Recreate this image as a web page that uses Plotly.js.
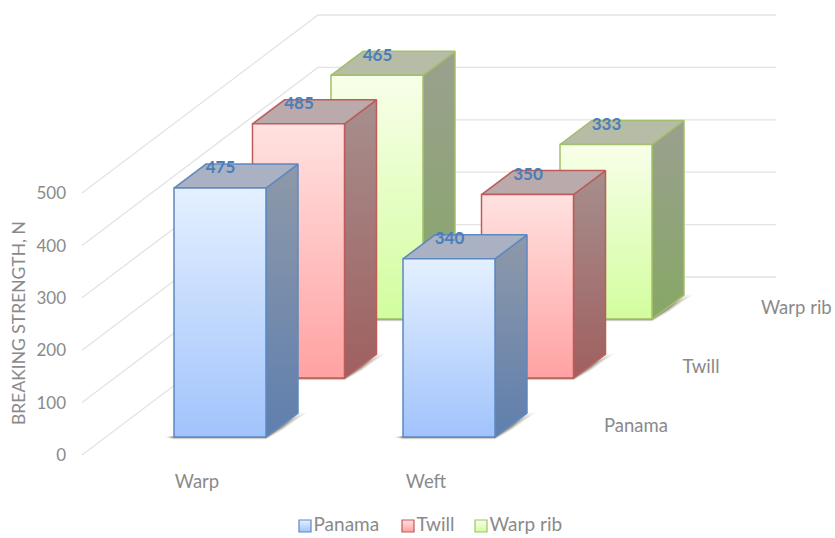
<!DOCTYPE html>
<html>
<head>
<meta charset="utf-8">
<script src="https://cdn.plot.ly/plotly-3.0.1.min.js"></script>
<style>html,body{margin:0;padding:0;background:#fff}#chart{width:835px;height:538px}</style>
</head>
<body>
<div id="chart"></div>
<script>
// Values of the chart
const categories = ['Warp', 'Weft'];
const seriesNames = ['Panama', 'Twill', 'Warp rib'];
const panamaValues = [475, 340];
const twillValues = [485, 350];
const warpRibValues = [465, 333];
const valueTicks = [0, 100, 200, 300, 400, 500];
const axisTitle = 'BREAKING STRENGTH, N';

// Oblique projection: x axis is in screen pixels, y axis in strength units
const W = 835, H = 538;
const pxPerUnit = 0.524;
const baseY = 437;
const u = px => px / pxPerUnit;
const catX0 = 174, catStep = 229, barW = 92;
const rowDx = 78.5, rowDy = u(59);
const depthDx = 32, depthDy = u(24);
const wallDx = 236, wallDy = u(178), wallX0 = 82, wallY0 = u(-18), wallRight = 776;

const styles = [
  {front: ['#E4F0FF', '#A1C3FC'], side: ['#8E99A9', '#5F7FAE'], top: '#A9B1C2', edge: '#5E88C0'},
  {front: ['#FFE2E0', '#FFA2A2'], side: ['#A68F8E', '#A05F5F'], top: '#BAAAAB', edge: '#BD5C5A'},
  {front: ['#F8FFE9', '#D2FD9E'], side: ['#9AA08F', '#87A766'], top: '#B7BCA6', edge: '#A3BF6B'}
];
const seriesValues = [panamaValues, twillValues, warpRibValues];
const legendMarkerX = [305, 408, 481];
const legendY = u(437 - 526);
const textGrey = '#8A8A8A';
const font = 'Lato, "Open Sans", sans-serif';

const traces = [];

// Walls: one diagonal and one back line per tick
valueTicks.forEach(v => {
  traces.push({
    x: [wallX0, wallX0 + wallDx, wallRight],
    y: [wallY0 + v, wallY0 + v + wallDy, wallY0 + v + wallDy],
    mode: 'lines', line: {color: '#E3E3E3', width: 1.3},
    showlegend: false, hoverinfo: 'skip'
  });
});

function face(xs, ys, color, edge) {
  const t = {
    x: xs, y: ys, mode: 'lines', fill: 'toself',
    line: {color: edge, width: 1.5},
    showlegend: false, hoverinfo: 'skip'
  };
  if (Array.isArray(color)) {
    t.fillgradient = {type: 'vertical', colorscale: [[0, color[1]], [1, color[0]]]};
  } else {
    t.fillcolor = color;
  }
  return t;
}

// Back row first so nearer bars paint over it
for (let row = seriesNames.length - 1; row >= 0; row--) {
  categories.forEach((cat, c) => {
    const st = styles[row];
    const v = seriesValues[row][c];
    const l = catX0 + c * catStep + row * rowDx;
    const r = l + barW;
    const b = row * rowDy;
    const t = b + v;

    // Soft floor shadow: a stub left of the base and a wedge along the side
    [[9, 4.5, 0.18], [6, 3, 0.28], [3, 1.8, 0.4]].forEach(([s, w, a]) => {
      traces.push({
        x: [l - s, l, r, r + depthDx / 2, r + depthDx + s, r + depthDx / 2 + 1, r, l, l - s],
        y: [b, b + u(1), b, b + depthDy / 2, b + depthDy + u(1), b + depthDy / 2 - u(w), b - u(w / 2), b - u(w / 2), b],
        mode: 'lines', fill: 'toself', line: {width: 0},
        fillcolor: `rgba(100,90,70,${a})`, showlegend: false, hoverinfo: 'skip'
      });
    });

    traces.push(face([r, r + depthDx, r + depthDx, r, r], [b, b + depthDy, t + depthDy, t, b], st.side, st.edge));
    traces.push(face([l, r, r + depthDx, l + depthDx, l], [t, t, t + depthDy, t + depthDy, t], st.top, st.edge));
    traces.push(face([l, r, r, l, l], [b, b, t, t, b], st.front, st.edge));
  });
}

// Value labels sit on the top face of each bar
const labelX = [], labelY = [], labelText = [];
seriesValues.forEach((vals, row) => vals.forEach((v, c) => {
  labelX.push(catX0 + c * catStep + row * rowDx + barW / 2 + 0.5);
  labelY.push(row * rowDy + v + u(19));
  labelText.push(String(v));
}));
traces.push({
  x: labelX, y: labelY, text: labelText, mode: 'text', textposition: 'middle center',
  textfont: {family: font, size: 17, color: '#4A7EBB', weight: 700},
  showlegend: false, hoverinfo: 'skip'
});

// Value axis tick labels, right aligned against the wall
traces.push({
  x: valueTicks.map(() => 66), y: valueTicks.map(v => wallY0 + v - u(2)),
  text: valueTicks.map(String), mode: 'text', textposition: 'middle left',
  textfont: {family: font, size: 17, color: textGrey},
  showlegend: false, hoverinfo: 'skip'
});

// Category labels below the front row
traces.push({
  x: categories.map((_, c) => catX0 + c * catStep + 23), y: categories.map(() => u(-46)),
  text: categories, mode: 'text', textposition: 'middle center',
  textfont: {family: font, size: 18.5, color: textGrey},
  showlegend: false, hoverinfo: 'skip'
});

// Series labels along the depth axis
traces.push({
  x: seriesNames.map((_, i) => 604 + i * rowDx), y: seriesNames.map((_, i) => u(9.5) + i * rowDy),
  text: seriesNames, mode: 'text', textposition: 'middle right',
  textfont: {family: font, size: 18.5, color: textGrey},
  showlegend: false, hoverinfo: 'skip'
});

// Key along the bottom edge: gradient square followed by the series name
seriesNames.forEach((name, i) => {
  traces.push({
    name: name, x: [legendMarkerX[i]], y: [legendY], text: [name],
    mode: 'markers+text', textposition: 'middle right',
    textfont: {family: font, size: 19, color: textGrey},
    marker: {
      symbol: 'square', size: 12, color: styles[i].front[0],
      gradient: {type: 'vertical', color: styles[i].front[1]},
      line: {color: styles[i].edge, width: 1.2}
    },
    cliponaxis: false, showlegend: false, hoverinfo: 'skip'
  });
});

const layout = {
  width: W, height: H, margin: {l: 0, r: 0, t: 0, b: 0},
  paper_bgcolor: '#fff', plot_bgcolor: '#fff', showlegend: false,
  xaxis: {range: [0, W], visible: false, fixedrange: true},
  yaxis: {range: [u(baseY - H), u(baseY)], visible: false, fixedrange: true},
  annotations: [{
    text: axisTitle, xref: 'x', yref: 'y', x: 18, y: u(437 - 323), showarrow: false,
    textangle: -90, font: {family: font, size: 17.5, color: textGrey}
  }]
};

Plotly.newPlot('chart', traces, layout, {displayModeBar: false, staticPlot: true});
</script>
</body>
</html>
